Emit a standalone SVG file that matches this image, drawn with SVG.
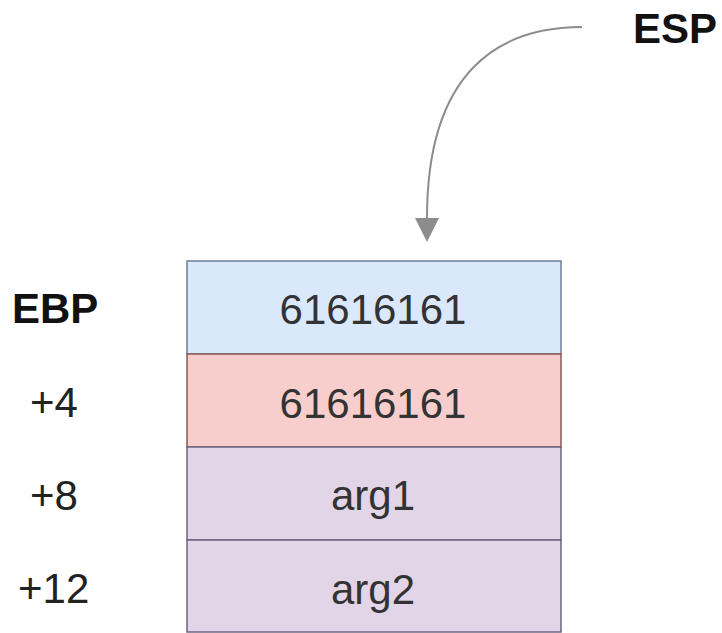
<svg xmlns="http://www.w3.org/2000/svg" width="722" height="633" viewBox="0 0 722 633">
  <style>
    text { font-family: "Liberation Sans", Arial, sans-serif; font-size: 42px; }
    .cell-text { fill: #333333; text-anchor: middle; }
    .label { fill: #222222; }
    .bold { font-weight: bold; fill: #111111; }
    .blue { fill: #dae8fc; stroke: #6c7f99; stroke-width: 1.5; }
    .red { fill: #f8cecc; stroke: #8a5a5a; stroke-width: 1.5; }
    .purple { fill: #e1d5e7; stroke: #6e6380; stroke-width: 1.5; }
    .conn { fill: none; stroke: #8c8c8c; stroke-width: 2; }
  </style>
  <defs>
    <marker id="arrowhead" markerWidth="24" markerHeight="24" refX="0" refY="12" orient="auto" markerUnits="userSpaceOnUse">
      <path d="M0,0 L24,12 L0,24 Z" fill="#8c8c8c"/>
    </marker>
  </defs>
  <rect width="722" height="633" fill="#ffffff"/>

  <!-- stack cells -->
  <g id="cell-ebp">
    <rect class="blue" x="187" y="261" width="374" height="93"/>
    <text class="cell-text" x="373" y="324">61616161</text>
  </g>
  <g id="cell-ret">
    <rect class="red" x="187" y="354" width="374" height="93"/>
    <text class="cell-text" x="373" y="418">61616161</text>
  </g>
  <g id="cell-arg1">
    <rect class="purple" x="187" y="447" width="374" height="93"/>
    <text class="cell-text" x="373" y="510">arg1</text>
  </g>
  <g id="cell-arg2">
    <rect class="purple" x="187" y="540" width="374" height="92"/>
    <text class="cell-text" x="373" y="604">arg2</text>
  </g>

  <!-- offset labels -->
  <g id="label-ebp"><text class="bold" x="12" y="323">EBP</text></g>
  <g id="label-4"><text class="label" x="30" y="417">+4</text></g>
  <g id="label-8"><text class="label" x="30" y="510">+8</text></g>
  <g id="label-12"><text class="label" x="18" y="603">+12</text></g>
  <g id="label-esp"><text class="bold" x="633" y="43">ESP</text></g>

  <!-- connectors -->
  <g id="connectors">
    <path class="conn" d="M582,27 C500,27 427,70 427,218" marker-end="url(#arrowhead)"/>
  </g>
</svg>
